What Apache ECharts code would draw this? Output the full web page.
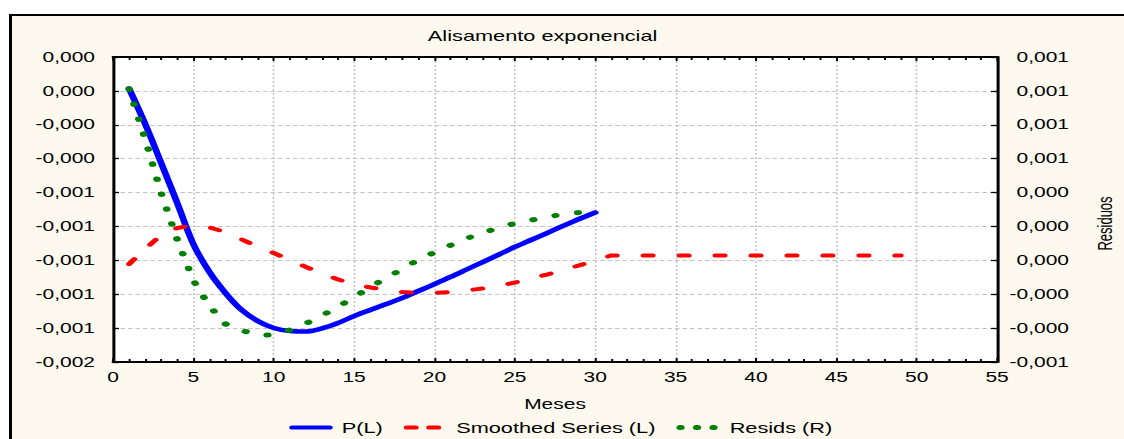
<!DOCTYPE html>
<html>
<head>
<meta charset="utf-8">
<title>Alisamento exponencial</title>
<script src="https://cdn.jsdelivr.net/npm/echarts@6/dist/echarts.min.js"></script>
<style>
  html, body { margin: 0; padding: 0; background: #ffffff; width: 1124px; height: 439px; overflow: hidden; position: relative; }
  #frame { position: absolute; left: 9px; top: 14px; width: 1200px; height: 500px; background: #fef9ee;
           border-left: 3px solid #000; border-top: 2px solid #000; }
  /* the chart is laid out on a 750px canvas and widened to the page width */
  #chart { position: absolute; left: 0; top: 0; width: 750px; height: 439px;
           transform: scaleX(1.498667); transform-origin: 0 0; }
</style>
</head>
<body>
<div id="frame"></div>
<div id="chart"></div>
<script>
// Months (x axis)
const monthsObserved = [1, 2, 3, 4, 5, 6, 7, 8, 9, 10, 11, 12, 13, 14, 15, 16, 17, 18, 19, 20,
  21, 22, 23, 24, 25, 26, 27, 28, 29, 30];
const monthsSmoothed = [1, 2, 3, 4, 5, 6, 7, 8, 9, 10, 11, 12, 13, 14, 15, 16, 17, 18, 19, 20,
  21, 22, 23, 24, 25, 26, 27, 28, 29, 30, 31, 32, 33, 34, 35, 36, 37, 38, 39, 40,
  41, 42, 43, 44, 45, 46, 47, 48, 49];

// P(L) - observed series, left axis
const seriesP = [0.000014, -0.000195, -0.000426, -0.000662, -0.000904, -0.001069, -0.001193,
  -0.001293, -0.001358, -0.001399, -0.001417, -0.00142, -0.001402, -0.00137, -0.001329,
  -0.001293, -0.001258, -0.001222, -0.001181, -0.00114, -0.001098, -0.001054, -0.00101,
  -0.000966, -0.000921, -0.00088, -0.000839, -0.000797, -0.000756, -0.000718];

// Smoothed Series (L) - fitted values plus forecast, left axis
const seriesSmoothed = [-0.001022, -0.000933, -0.00085, -0.000809, -0.000794, -0.000806,
  -0.000833, -0.000877, -0.000918, -0.000957, -0.000998, -0.001039, -0.001078, -0.001113,
  -0.00114, -0.00116, -0.001175, -0.001187, -0.001193, -0.001193, -0.001187, -0.001178,
  -0.001166, -0.001151, -0.001131, -0.001107, -0.001084, -0.001057, -0.00103, -0.001001,
  -0.000971, -0.000971, -0.000971, -0.000971, -0.000971, -0.000971, -0.000971, -0.000971,
  -0.000971, -0.000971, -0.000971, -0.000971, -0.000971, -0.000971, -0.000971, -0.000971,
  -0.000971, -0.000971, -0.000971];

// Resids (R) - residuals, right axis
const seriesResids = [0.001011, 0.000717, 0.000396, 0.000121, -0.000119, -0.00027, -0.000376,
  -0.000413, -0.000441, -0.000441, -0.000411, -0.000373, -0.000326, -0.000274, -0.000218,
  -0.000157, -0.000104, -0.000051, 0.000004, 0.000047, 0.000089, 0.000129, 0.000163,
  0.000192, 0.000218, 0.000237, 0.000255, 0.000273, 0.000282, 0.000288];

// Axis ranges
const xRange = { min: 0, max: 55, step: 5 };
const leftRange = { min: -0.0016, max: 0.0002, step: 0.0002 };
const rightRange = { min: -0.0006, max: 0.0012, step: 0.0002 };

const FONT = "'Liberation Sans', Arial, sans-serif";
const pairs = (xs, ys) => ys.map((y, i) => [xs[i], y]);
const fmt = v => v.toFixed(3).replace('.', ',');

const gridGrey = '#c4c4c4';
const axisLineStyle = { color: '#000', width: 2 };
const hiddenSymbol = { opacity: 0 };

const chart = echarts.init(document.getElementById('chart'), null, { renderer: 'svg' });

chart.setOption({
  backgroundColor: 'transparent',
  animation: false,
  textStyle: { fontFamily: FONT },
  title: {
    text: 'Alisamento exponencial',
    left: 280.5, top: 23,
    textStyle: { fontFamily: FONT, fontSize: 14.5, fontWeight: 'normal', color: '#000' }
  },
  grid: {
    left: 75.4, right: 84.7, top: 57, bottom: 77,
    show: true, backgroundColor: '#ffffff', borderWidth: 0,
    outerBoundsMode: 'none'
  },
  legend: {
    left: 188, top: 415,
    itemWidth: 25, itemHeight: 14, itemGap: 14,
    textStyle: { fontFamily: FONT, fontSize: 14.5, color: '#000', padding: [0, 0, 0, 3] },
    data: [
      { name: 'P(L)', itemStyle: hiddenSymbol, lineStyle: { width: 4, cap: 'round' } },
      { name: 'Smoothed Series (L)', itemStyle: hiddenSymbol, lineStyle: { width: 4, type: [6, 9], cap: 'round' } },
      { name: 'Resids (R)', itemStyle: hiddenSymbol, lineStyle: { width: 5, type: [0.5, 10.5], cap: 'round' } }
    ]
  },
  xAxis: [
    {
      type: 'value', position: 'bottom',
      min: xRange.min, max: xRange.max, interval: xRange.step,
      name: 'Meses', nameLocation: 'middle', nameGap: 35,
      nameTextStyle: { fontFamily: FONT, fontSize: 14, color: '#000' },
      axisLine: { show: true, onZero: false, lineStyle: axisLineStyle },
      axisTick: { show: true, inside: true, length: 4, lineStyle: { color: '#000', width: 1.3 } },
      minorTick: { show: true, splitNumber: 5, length: 3, lineStyle: { color: '#000', width: 1.3 } },
      axisLabel: { fontFamily: FONT, fontSize: 14, color: '#000', margin: 8 },
      splitLine: { show: true, lineStyle: { color: gridGrey, width: 1, type: [2, 2] } }
    },
    {
      type: 'value', position: 'top',
      min: xRange.min, max: xRange.max, interval: xRange.step,
      axisLine: { show: true, onZero: false, lineStyle: axisLineStyle },
      axisTick: { show: true, inside: true, length: 4, lineStyle: { color: '#000', width: 1.3 } },
      minorTick: { show: true, splitNumber: 5, length: 3, lineStyle: { color: '#000', width: 1.3 } },
      axisLabel: { show: false },
      splitLine: { show: false }
    }
  ],
  yAxis: [
    {
      type: 'value', position: 'left',
      min: leftRange.min, max: leftRange.max, interval: leftRange.step,
      axisLine: { show: true, onZero: false, lineStyle: axisLineStyle },
      axisTick: { show: true, inside: true, length: 4, lineStyle: { color: '#000', width: 1.3 } },
      axisLabel: { fontFamily: FONT, fontSize: 14, color: '#000', margin: 12, formatter: fmt },
      splitLine: { show: true, lineStyle: { color: gridGrey, width: 1, type: [3, 2] } }
    },
    {
      type: 'value', position: 'right',
      min: rightRange.min, max: rightRange.max, interval: rightRange.step,
      name: 'Residuos', nameLocation: 'middle', nameGap: 66, nameRotate: 90,
      nameTextStyle: { fontFamily: FONT, fontSize: 13, color: '#000', padding: [0, 28, 0, 0] },
      axisLine: { show: true, onZero: false, lineStyle: axisLineStyle },
      axisTick: { show: true, inside: true, length: 4, lineStyle: { color: '#000', width: 1.3 } },
      axisLabel: { fontFamily: FONT, fontSize: 14, color: '#000', margin: 48, align: 'right', formatter: fmt },
      splitLine: { show: false }
    }
  ],
  series: [
    {
      name: 'P(L)', type: 'line', xAxisIndex: 0, yAxisIndex: 0,
      data: pairs(monthsObserved, seriesP),
      symbol: 'none', smooth: 0.35,
      lineStyle: { color: '#0000ff', width: 4.5, cap: 'round', join: 'round' },
      itemStyle: { color: '#0000ff' }
    },
    {
      name: 'Smoothed Series (L)', type: 'line', xAxisIndex: 0, yAxisIndex: 0,
      data: pairs(monthsSmoothed, seriesSmoothed),
      symbol: 'none',
      lineStyle: { color: '#ff0000', width: 4, type: [6, 18], cap: 'round', join: 'round' },
      itemStyle: { color: '#ff0000' }
    },
    {
      name: 'Resids (R)', type: 'line', xAxisIndex: 0, yAxisIndex: 1,
      data: pairs(monthsObserved, seriesResids),
      symbol: 'none',
      lineStyle: { color: '#008000', width: 5, type: [0.5, 14.8], cap: 'round', join: 'round' },
      itemStyle: { color: '#008000' }
    }
  ]
});
</script>
</body>
</html>
